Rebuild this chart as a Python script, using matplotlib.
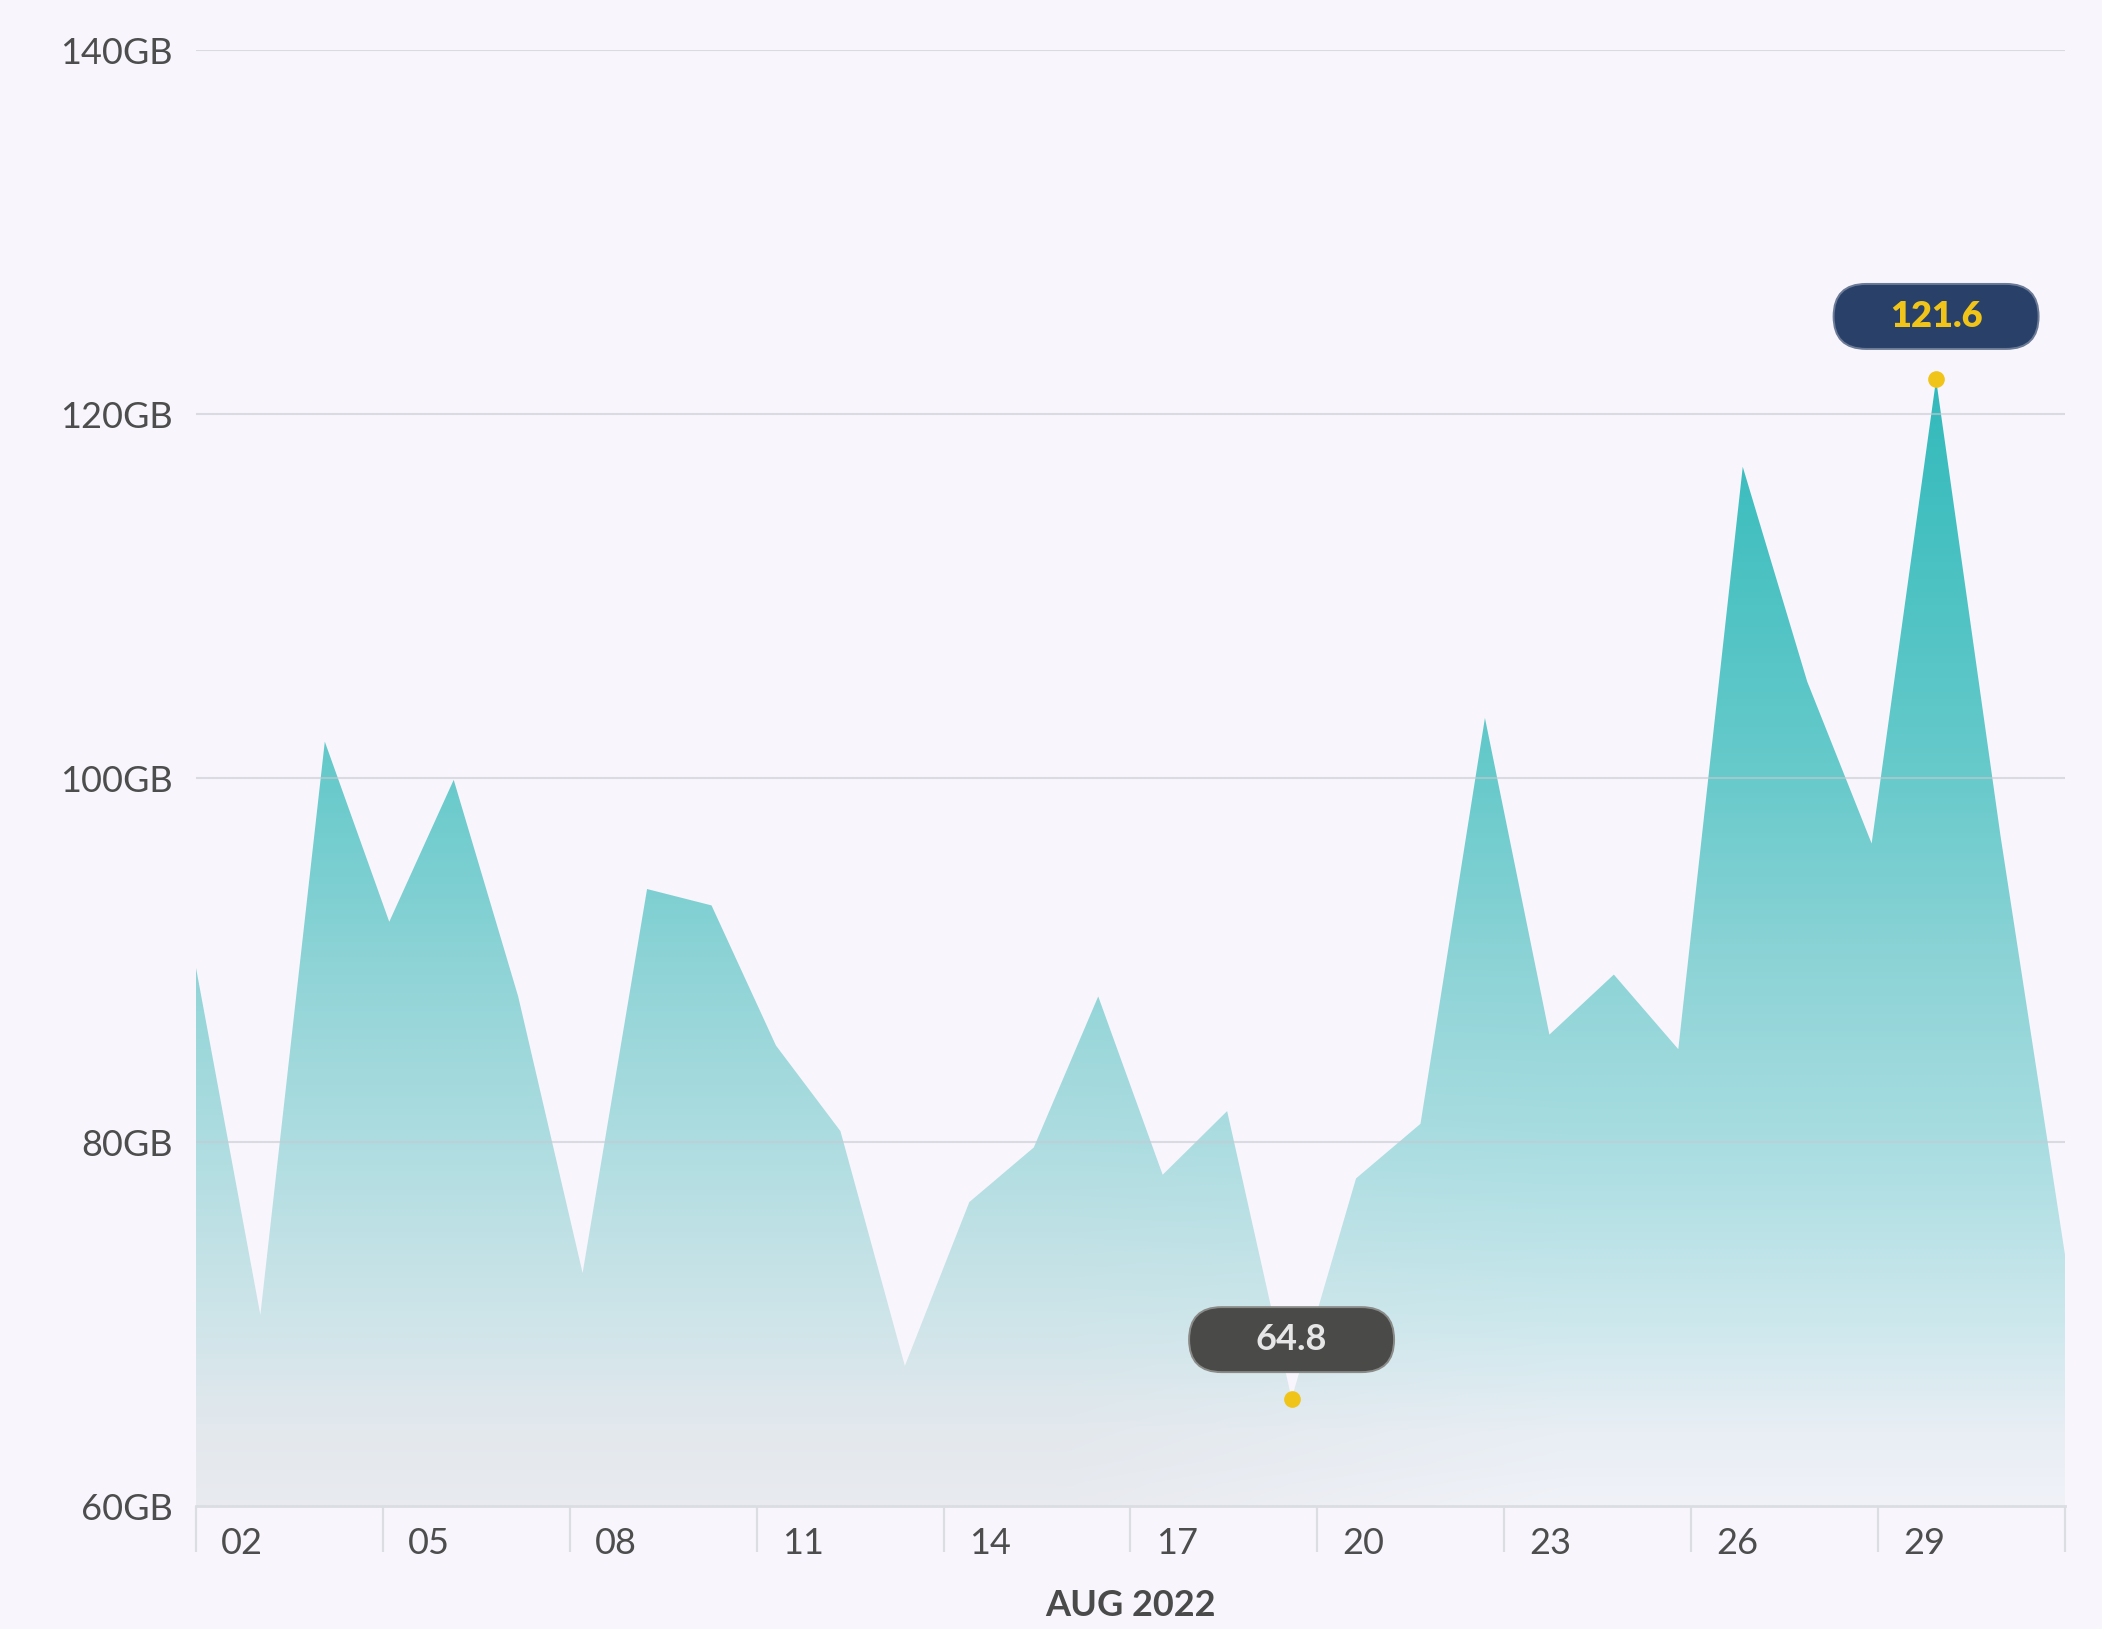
import numpy as np
import matplotlib.pyplot as plt
import matplotlib.transforms as mtransforms
from matplotlib.patches import FancyBboxPatch

plt.rcParams['font.family'] = ['Lato', 'DejaVu Sans']

# daily usage, Aug 2022 (GB)
usage_gb = [89.6, 70.5, 102.0, 92.1, 99.9, 88.0, 72.8, 93.9, 93.0, 85.3,
            80.6, 67.7, 76.7, 79.7, 88.0, 78.2, 81.7, 65.9, 78.0, 81.0,
            103.3, 85.9, 89.2, 85.1, 117.1, 105.3, 96.4, 121.9, 96.8, 73.8]
day_pos = np.linspace(0, 30, len(usage_gb))

tick_days = [0, 3, 6, 9, 12, 15, 18, 21, 24, 27, 30]
tick_labels = ["02", "05", "08", "11", "14", "17", "20", "23", "26", "29"]
y_ticks = [60, 80, 100, 120, 140]
y_labels = ["60GB", "80GB", "100GB", "120GB", "140GB"]

peak_label = "121.6"
low_label = "64.8"

bg = '#f8f6fc'
fig = plt.figure(figsize=(21.02, 16.29), dpi=100, facecolor=bg)
ax = fig.add_axes([0.0932, 0.0755, 0.8892, 0.8938])
ax.set_facecolor(bg)
ax.set_xlim(0, 30)
ax.set_ylim(60, 140)

# gradient fill clipped to the area
ys = np.linspace(60, 140, 500)
xs = np.linspace(0, 30, 300)
stops_v = [60, 64, 70, 80, 90, 100, 115, 125, 140]
stops_c = np.array([[240, 242, 248], [232, 238, 244], [205, 232, 237], [168, 221, 225],
                    [140, 211, 214], [104, 202, 203], [66, 191, 192], [44, 182, 184],
                    [44, 182, 184]]) / 255.0
base = np.stack([np.interp(ys, stops_v, stops_c[:, k]) for k in range(3)], axis=-1)
grey = np.array([0.84, 0.85, 0.86])
sx = np.clip((22 - xs) / 8, 0, 1)
ty = np.clip((92 - ys) / 32, 0, 1) * 0.3
w = ty[:, None] * sx[None, :]
img = base[:, None, :] * (1 - w[..., None]) + grey * w[..., None]
poly = ax.fill_between(day_pos, usage_gb, 60, facecolor='none', edgecolor='none')
im = ax.imshow(img, extent=[0, 30, 60, 140], origin='lower', aspect='auto',
               interpolation='bilinear', zorder=1)
im.set_clip_path(poly.get_paths()[0], transform=ax.transData)

# grid
for yv in y_ticks[1:]:
    ax.axhline(yv, color=(0.78, 0.79, 0.82), alpha=0.6, lw=1.5, zorder=2)

for s in ['top', 'right', 'left']:
    ax.spines[s].set_visible(False)
ax.spines['bottom'].set_color('#dadde2')
ax.spines['bottom'].set_linewidth(2)
ax.spines['bottom'].set_zorder(3)

ax.set_xticks(tick_days)
ax.set_xticklabels([])
ax.tick_params(axis='x', which='major', length=33, width=1.6, color='#dadde2', direction='out')
ax.set_xticks([d + 0.74 for d in tick_days[:-1]], minor=True)
ax.set_xticklabels(tick_labels, minor=True)
ax.tick_params(axis='x', which='minor', length=0, pad=15, labelsize=26, labelcolor='#4d4d4d')

ax.set_yticks(y_ticks)
ax.set_yticklabels(y_labels)
ax.tick_params(axis='y', length=0, pad=17, labelsize=26, labelcolor='#4d4d4d')

fig.text(0.5376, 0.0147, "AUG 2022", ha='center', va='center', fontsize=26,
         fontweight='bold', color='#4a4a4a')


def callout(i, text, face, edge, txtcolor, dy, weight):
    trans = fig.dpi_scale_trans + mtransforms.ScaledTranslation(day_pos[i], usage_gb[i], ax.transData)
    bw, bh = 2.05, 0.65
    box = FancyBboxPatch((-bw / 2, dy - bh / 2), bw, bh,
                         boxstyle=f"round,pad=0,rounding_size={bh / 2}",
                         transform=trans, fc=face, ec=edge, lw=1.4, zorder=6, clip_on=False)
    ax.add_patch(box)
    ax.text(0, dy, text, transform=trans, ha='center', va='center', fontsize=26,
            fontweight=weight, color=txtcolor, zorder=7)
    ax.plot(day_pos[i], usage_gb[i], 'o', color='#f0c419', ms=12, mec='none',
            zorder=8, clip_on=False)


i_max = int(np.argmax(usage_gb))
i_min = int(np.argmin(usage_gb))
callout(i_max, peak_label, '#294168', '#6b7a96', '#f0c419', 0.63, 'heavy')
callout(i_min, low_label, '#4a4a48', '#8a8a88', '#e6e6e6', 0.59, 'bold')

fig.savefig('out.png', dpi=100, facecolor=bg)
